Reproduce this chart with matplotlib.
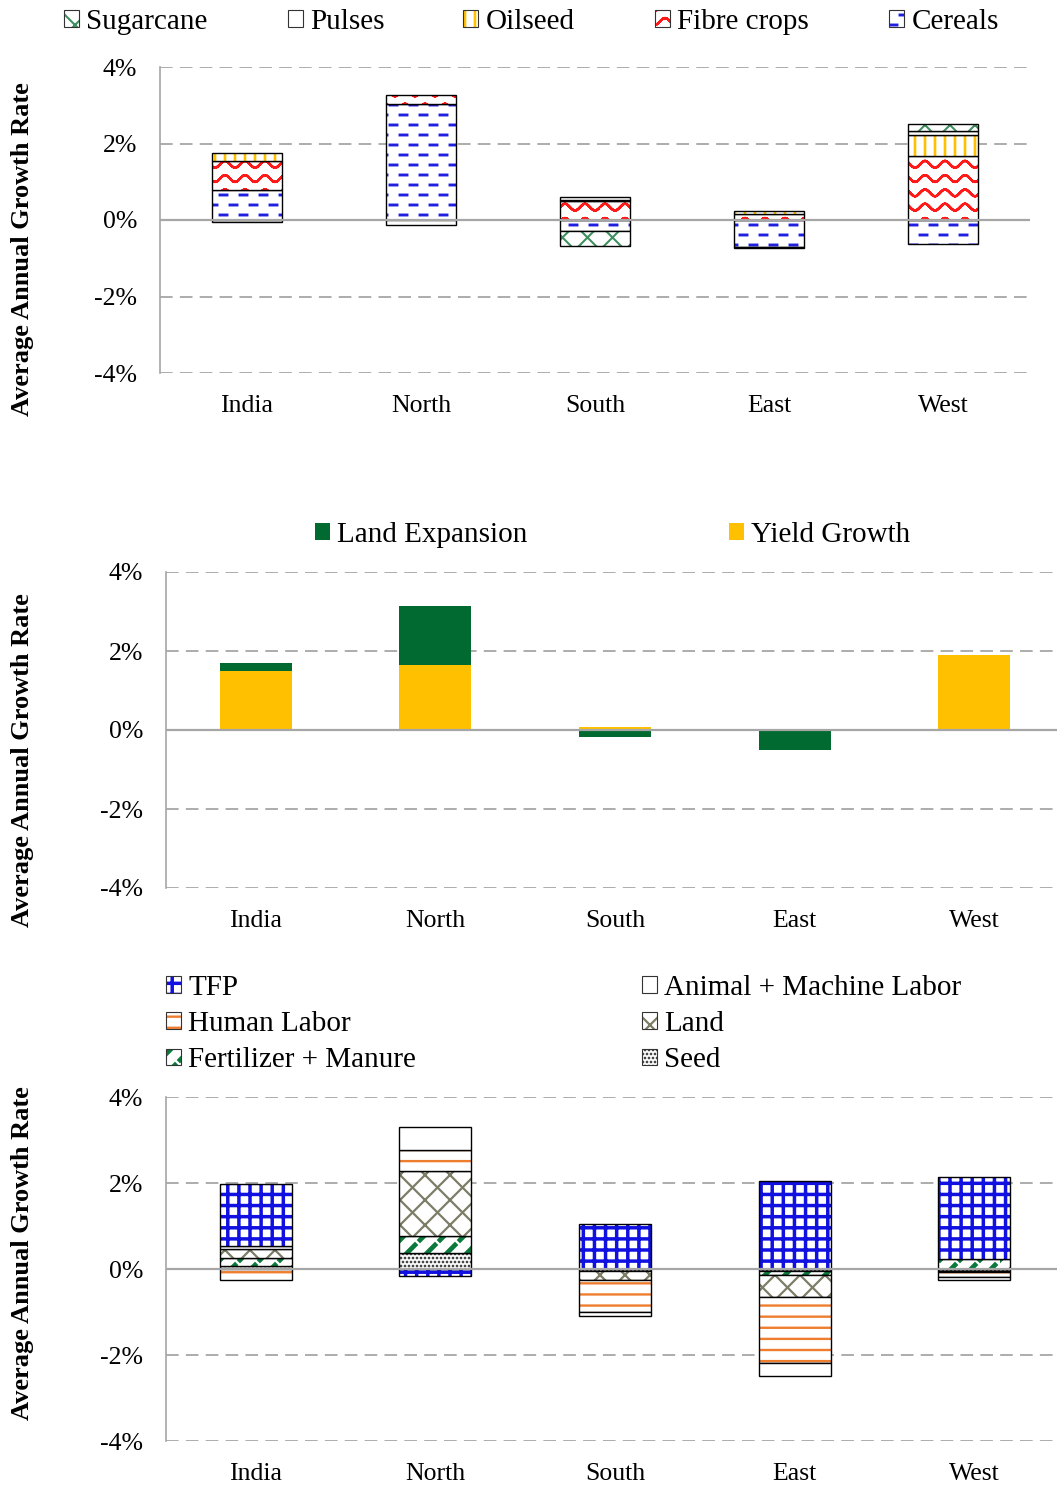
import numpy as np
import matplotlib
matplotlib.use('Agg')
import matplotlib.pyplot as plt
import matplotlib.patches as mpatches
import matplotlib.hatch as mhatch
from matplotlib.path import Path
from matplotlib.colors import to_rgba
from matplotlib.legend_handler import HandlerPatch

# ------------------------------------------------------------------ data
regions = ['India', 'North', 'South', 'East', 'West']
ytick_vals = [-4, -2, 0, 2, 4]
ytick_labels = ['-4%', '-2%', '0%', '2%', '4%']

# panel 1: crop composition (stack order bottom -> top)
crop_names = ['Cereals', 'Fibre crops', 'Oilseed', 'Pulses', 'Sugarcane']
cereals = [0.78, 3.03, -0.28, -0.70, -0.63]
fibre = [0.76, 0.24, 0.49, 0.15, 1.68]
oilseed = [0.22, 0.00, 0.03, 0.08, 0.55]
pulses = [-0.05, -0.12, 0.07, -0.02, 0.10]
sugarcane = [0.00, 0.00, -0.40, 0.00, 0.17]

# panel 2: sources of growth
source_names = ['Land Expansion', 'Yield Growth']
land_expansion = [0.20, 1.49, -0.17, -0.50, 0.00]
yield_growth = [1.49, 1.65, 0.08, 0.00, 1.90]

# panel 3: input contributions (stack order bottom -> top)
input_names = ['Seed', 'Fertilizer + Manure', 'Land', 'Human Labor',
               'Animal + Machine Labor', 'TFP']
seed = [0.06, 0.37, -0.05, -0.05, -0.04]
fertilizer = [0.19, 0.39, 0.00, -0.10, 0.23]
land = [0.21, 1.51, -0.21, -0.50, -0.04]
human_labor = [-0.26, 0.50, -0.74, -1.53, -0.10]
animal_machine = [0.08, 0.54, -0.10, -0.31, -0.08]
tfp = [1.44, -0.17, 1.05, 2.05, 1.92]

# ------------------------------------------------------------------ custom hatches
def _segpath(segs, wrap=False):
    verts, codes = [], []
    shifts = [(dx, dy) for dx in (-1, 0, 1) for dy in (-1, 0, 1)] if wrap else [(0, 0)]
    for (x0, y0, x1, y1) in segs:
        for dx, dy in shifts:
            a0, a1, b0, b1 = x0 + dx, x1 + dx, y0 + dy, y1 + dy
            if max(a0, a1) < -0.1 or min(a0, a1) > 1.1 or max(b0, b1) < -0.1 or min(b0, b1) > 1.1:
                continue
            verts += [(a0, b0), (a1, b1)]
            codes += [Path.MOVETO, Path.LINETO]
    return np.array(verts, float), np.array(codes, dtype=Path.code_type)


def pat_dashes():
    segs = []
    nrow, per, L = 10, 5, 0.07
    for r in range(nrow):
        y = (r + 0.5) / nrow
        off = 0.1 if r % 2 else 0.0
        for k in range(per):
            x0 = k / per + off
            segs.append((x0, y, x0 + L, y))
    return _segpath(segs, wrap=True)


def pat_waves():
    segs = []
    nrow, A, nper, N = 7, 0.033, 5, 200
    xs = np.linspace(0, 1, N + 1)
    for r in range(nrow):
        y0 = (r + 0.5) / nrow
        ys = y0 + A * np.sin(2 * np.pi * nper * xs)
        for i in range(N):
            segs.append((xs[i], ys[i], xs[i + 1], ys[i + 1]))
    return _segpath(segs, wrap=False)


def pat_vlines():
    segs = [((k + 0.5) / 10, -0.05, (k + 0.5) / 10, 1.05) for k in range(10)]
    return _segpath(segs)


def pat_hlines():
    segs = [(-0.05, (k + 0.5) / 9, 1.05, (k + 0.5) / 9) for k in range(9)]
    return _segpath(segs)


def pat_grid():
    segs = [((k + 0.5) / 9, -0.05, (k + 0.5) / 9, 1.05) for k in range(9)]
    segs += [(-0.05, (k + 0.5) / 9, 1.05, (k + 0.5) / 9) for k in range(9)]
    return _segpath(segs)


def pat_lattice():
    segs = []
    for k in range(-8, 9):
        segs.append((0, k / 4, 1, k / 4 + 1))
        segs.append((0, k / 4, 1, k / 4 - 1))
    return _segpath(segs)


def pat_diagdash():
    segs = []
    for k in range(-5, 6):
        c = k / 5
        for j in range(5):
            t0 = j / 5
            t1 = t0 + 0.15
            segs.append((t0, t0 + c, t1, t1 + c))
    return _segpath(segs)


def pat_dots():
    verts, codes = [], []
    n = 25
    for r in range(n):
        y = (r + 0.5) / n
        for i in range(n):
            x = (i + 0.25 + 0.5 * (r % 2)) / n
            c = Path.circle((x, y), 0.009)
            verts.append(c.vertices)
            codes.append(c.codes)
    return np.concatenate(verts), np.concatenate(codes).astype(Path.code_type)


_PATHS = {
    'o': pat_dashes(),    # cereals
    'O': pat_waves(),     # fibre crops
    '|': pat_vlines(),    # oilseed
    'x': pat_lattice(),   # sugarcane / land
    '+': pat_grid(),      # TFP
    '-': pat_hlines(),    # human labour
    '/': pat_diagdash(),  # fertilizer
    '.': pat_dots(),      # seed
}


class CustomHatch(mhatch.HatchPatternBase):
    def __init__(self, hatch, density):
        vs, cs = [], []
        for ch, (v, c) in _PATHS.items():
            if ch in hatch:
                vs.append(v)
                cs.append(c)
        if vs:
            self.v = np.concatenate(vs)
            self.c = np.concatenate(cs)
        else:
            self.v = np.empty((0, 2))
            self.c = np.empty(0, dtype=Path.code_type)
        self.num_vertices = len(self.v)

    def set_vertices_and_codes(self, vertices, codes):
        vertices[:] = self.v
        codes[:] = self.c


mhatch._hatch_types[:] = [CustomHatch]

# ------------------------------------------------------------------ styles
plt.rcParams['font.family'] = ['Liberation Serif', 'DejaVu Serif']
plt.rcParams['hatch.linewidth'] = 1.5

crop_styles = [
    dict(hatch='o', hc='#1f1fe0', hlw=2.1),
    dict(hatch='O', hc='#ff1a1a', hlw=1.6),
    dict(hatch='|', hc='#ffc000', hlw=1.9),
    dict(hatch=None, hc='black', hlw=1.0),
    dict(hatch='x', hc='#3f8f5f', hlw=1.5),
]
input_styles = [
    dict(hatch='.', hc='#3a3a3a', hlw=0.6),
    dict(hatch='/', hc='#0a7a3c', hlw=3.4),
    dict(hatch='x', hc='#7d7d68', hlw=1.6),
    dict(hatch='-', hc='#ee7d2e', hlw=1.7),
    dict(hatch=None, hc='black', hlw=1.0),
    dict(hatch='+', hc='#1010e0', hlw=2.5),
]
land_color = '#006a30'
yield_color = '#ffc000'
grid_color = '#a6a6a6'

TICK_FS = 18.5
LEG_FS = 21
YLAB_FS = 19


def apply_hlw(p, lw):
    if hasattr(p, 'set_hatch_linewidth'):
        p.set_hatch_linewidth(lw)
    if hasattr(p, '_hatch_linewidth'):
        p._hatch_linewidth = lw
    orig = p.draw

    def draw(renderer, _orig=orig, _lw=lw):
        matplotlib.rcParams['hatch.linewidth'] = _lw
        return _orig(renderer)
    p.draw = draw


def style_patch(p, st):
    if st.get('hatch'):
        p._hatch_color = to_rgba(st['hc'])
        p._hlw = st['hlw']
        apply_hlw(p, st['hlw'])


def _legend_patch(legend, orig_handle, xdescent, ydescent, width, height, fontsize):
    lw = getattr(orig_handle, '_hlw', None)
    if lw:
        matplotlib.rcParams['hatch.linewidth'] = lw
    p = mpatches.Rectangle((-xdescent, -ydescent), width, height)
    if lw:
        apply_hlw(p, lw)
    return p


HMAP = {mpatches.Patch: HandlerPatch(patch_func=_legend_patch)}


def make_handle(st):
    if st.get('hatch'):
        matplotlib.rcParams['hatch.linewidth'] = st['hlw']
    h = mpatches.Patch(facecolor='white', edgecolor='#333333', linewidth=0.8,
                       hatch=st.get('hatch'))
    style_patch(h, st)
    return h


def stacked(ax, series, styles, width):
    x = np.arange(len(regions))
    pos = np.zeros(len(regions))
    neg = np.zeros(len(regions))
    for vals, st in zip(series, styles):
        v = np.asarray(vals, float)
        bottoms = np.where(v >= 0, pos, neg)
        m = v != 0
        if st.get('hatch'):
            matplotlib.rcParams['hatch.linewidth'] = st['hlw']
        bars = ax.bar(x[m], v[m], bottom=bottoms[m], width=width, color='white',
                      edgecolor='black', linewidth=1.0, hatch=st.get('hatch'),
                      zorder=2)
        for p in bars:
            style_patch(p, st)
        pos = pos + np.where(v > 0, v, 0)
        neg = neg + np.where(v < 0, v, 0)


def style_axes(ax):
    ax.set_xlim(-0.5, len(regions) - 0.5)
    ax.set_ylim(ytick_vals[0], ytick_vals[-1])
    ax.set_yticks(ytick_vals)
    ax.set_yticklabels(ytick_labels)
    ax.set_xticks(np.arange(len(regions)))
    ax.set_xticklabels(regions)
    ax.tick_params(axis='y', length=0, pad=16.5, labelsize=TICK_FS)
    ax.tick_params(axis='x', length=0, pad=15.5, labelsize=TICK_FS)
    for s in ('top', 'right', 'bottom'):
        ax.spines[s].set_visible(False)
    ax.spines['left'].set_color(grid_color)
    ax.spines['left'].set_linewidth(1.2)
    ax.set_axisbelow(True)
    ax.yaxis.grid(True, linestyle=(0, (7, 4)), color=grid_color, linewidth=1.3)
    ax.axhline(0, color=grid_color, linewidth=1.6, zorder=3)


W, H = 1057, 1485
fig = plt.figure(figsize=(W / 100, H / 100), dpi=100)


def px_axes(x0, x1, y0, y1):
    return fig.add_axes([x0 / W, 1 - y1 / H, (x1 - x0) / W, (y1 - y0) / H])


# ---------------- panel 1
ax1 = px_axes(160, 1030, 67, 373)
style_axes(ax1)
stacked(ax1, [cereals, fibre, oilseed, pulses, sugarcane], crop_styles, 0.40)

leg_x = [64, 288, 463, 655, 889]
order = [4, 3, 2, 1, 0]
for xpx, i in zip(leg_x, order):
    fig.legend([make_handle(crop_styles[i])], [crop_names[i]], loc='center left',
               bbox_to_anchor=(xpx / W, 1 - 22 / H), frameon=False, borderpad=0,
               borderaxespad=0, fontsize=LEG_FS, handlelength=0.5, handleheight=0.5,
               handletextpad=0.27, handler_map=HMAP)

# ---------------- panel 2
ax2 = px_axes(166, 1064, 572, 888)
style_axes(ax2)
x = np.arange(len(regions))
le = np.asarray(land_expansion, float)
yg = np.asarray(yield_growth, float)
pos = np.zeros(len(regions))
neg = np.zeros(len(regions))
for vals, col in ((yg, yield_color), (le, land_color)):
    b = np.where(vals >= 0, pos, neg)
    m = vals != 0
    ax2.bar(x[m], vals[m], bottom=b[m], width=0.40, color=col, linewidth=0, zorder=2)
    pos = pos + np.where(vals > 0, vals, 0)
    neg = neg + np.where(vals < 0, vals, 0)

for xpx, name, col in ((315, source_names[0], land_color), (729, source_names[1], yield_color)):
    fig.legend([mpatches.Patch(facecolor=col, linewidth=0)], [name], loc='center left',
               bbox_to_anchor=(xpx / W, 1 - 535 / H), frameon=False, borderpad=0,
               borderaxespad=0, fontsize=LEG_FS, handlelength=0.5, handleheight=0.5,
               handletextpad=0.27)

# ---------------- panel 3
ax3 = px_axes(166, 1064, 1097, 1441)
style_axes(ax3)
stacked(ax3, [seed, fertilizer, land, human_labor, animal_machine, tfp], input_styles, 0.40)

cols = [(166, [5, 3, 1]), (642, [4, 2, 0])]
for xpx, idxs in cols:
    fig.legend([make_handle(input_styles[i]) for i in idxs], [input_names[i] for i in idxs],
               loc='center left', bbox_to_anchor=(xpx / W, 1 - 1024 / H), frameon=False,
               borderpad=0, borderaxespad=0, fontsize=LEG_FS, handlelength=0.5,
               handleheight=0.5, handletextpad=0.27, labelspacing=0.35, handler_map=HMAP)

# ---------------- y labels
for yc in (249, 760, 1253):
    fig.text(23 / W, 1 - yc / H, 'Average Annual Growth Rate', rotation=90,
             ha='center', va='center', fontsize=YLAB_FS, fontweight='bold')

fig.savefig('out.png', dpi=100)
